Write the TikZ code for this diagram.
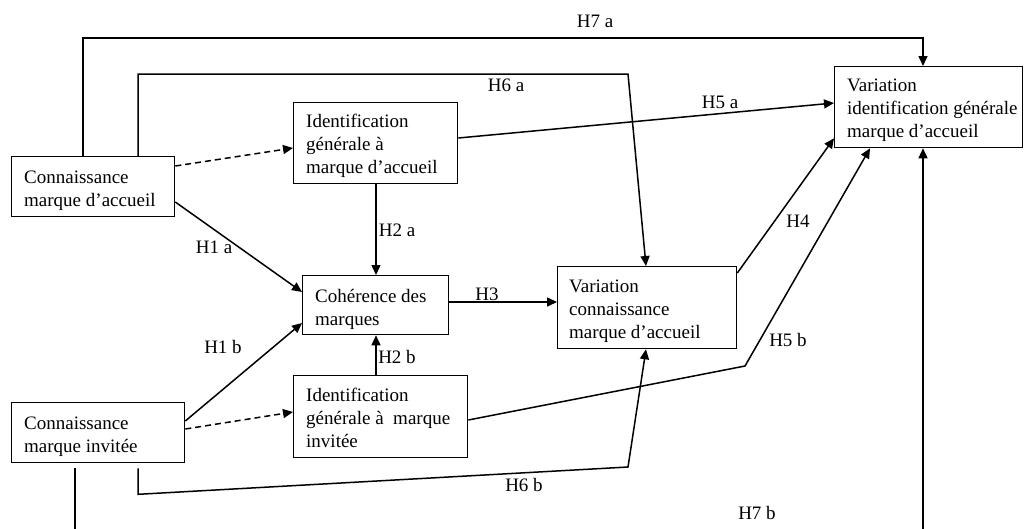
\documentclass[tikz,border=0pt]{standalone}
\usepackage{fontspec}
\setmainfont{Liberation Serif}
\usetikzlibrary{calc,arrows.meta}
\newcommand\fl{\rule{0pt}{26pt}}
\begin{document}
\begin{tikzpicture}[x=1pt,y=-1pt,
  font=\fontsize{19}{23}\selectfont,
  bx/.style={draw,line width=1.3pt,inner sep=0pt,anchor=north west},
  txt/.style={anchor=north west,align=left,inner sep=0pt},
  lab/.style={inner sep=0pt},
  ln/.style={line width=1.5pt},
  arr/.style={ln,-{Triangle[length=10pt,width=9pt]}},
  darr/.style={arr,dashed,dash pattern=on 6pt off 4pt}]
\useasboundingbox (0,0) rectangle (1032,528);
\clip (0,0) rectangle (1032,528);
% boxes
\node[bx,minimum width=163,minimum height=60] (A) at (11,156) {};
\node[bx,minimum width=164,minimum height=81] (B) at (293,102) {};
\node[bx,minimum width=146,minimum height=59] (C) at (302,275) {};
\node[bx,minimum width=174,minimum height=82] (D) at (293,375) {};
\node[bx,minimum width=173,minimum height=60] (E) at (11,402) {};
\node[bx,minimum width=179,minimum height=82] (F) at (557,266) {};
\node[bx,minimum width=188,minimum height=81] (G) at (834,66) {};
% texts
\node[txt] (tA) at ($(A.north west)+(13,1)$) {\fl Connaissance\\marque d’accueil};
\node[txt] (tB) at ($(B.north west)+(13,-1)$) {\fl Identification\\générale à\\marque d’accueil};
\node[txt] (tC) at ($(C.north west)+(13,1)$) {\fl Cohérence des\\marques};
\node[txt] (tD) at ($(D.north west)+(13,0)$) {\fl Identification\\générale à~ marque\\invitée};
\node[txt] (tE) at ($(E.north west)+(13,1)$) {\fl Connaissance\\marque invitée};
\node[txt] (tF) at ($(F.north west)+(12,0)$) {\fl Variation\\connaissance\\marque d’accueil};
\node[txt] (tG) at ($(G.north west)+(13,-1)$) {\fl Variation\\identification générale\\marque d’accueil};
% connectors
\draw[arr] ($(A.north west)+(72,0)$) -- ++(0,-118) -| ($(G.north west)+(89,0)$);
\draw[arr] ($(A.north west)+(127,0)$) -- ++(0,-82) -- (628,74) -- ($(F.north west)+(89,0)$);
\draw[arr] ($(B.north east)+(0,36)$) -- ($(G.north west)+(0,37)$);
\draw[darr] ($(A.north east)+(0,10)$) -- ($(B.north west)+(0,46)$);
\draw[arr] ($(A.north east)+(0,46)$) -- ($(C.north west)+(0,17)$);
\draw[arr] ($(B.south west)+(83,0)$) -- ($(C.north west)+(74,0)$);
\draw[arr] ($(E.north east)+(0,19)$) -- ($(C.north west)+(0,48)$);
\draw[arr] ($(D.north west)+(83,0)$) -- ($(C.south west)+(74,0)$);
\draw[darr] ($(E.north east)+(0,27)$) -- ($(D.north west)+(0,37)$);
\draw[arr] ($(C.north east)+(0,27)$) -- ($(F.north west)+(0,36)$);
\draw[arr] ($(F.north east)+(0,7)$) -- ($(G.south west)+(0,-10)$);
\draw[arr] ($(D.north east)+(0,45)$) -- (745,366) -- ($(G.south west)+(36,0)$);
\draw[arr] ($(E.south west)+(127,5)$) -- ++(0,26) -- (628,467) -- ($(F.south west)+(89,0)$);
\draw[arr] ($(E.south west)+(64,5)$) -- ++(0,78) -| ($(G.south west)+(89,0)$);
% labels
\node[lab] (l7a) at (595,21) {H7 a};
\node[lab] (l6a) at (506,85) {H6 a};
\node[lab] (l5a) at (720,102) {H5 a};
\node[lab] (l1a) at (214,247) {H1 a};
\node[lab] (l2a) at (397,230) {H2 a};
\node[lab] (l1b) at (223,347) {H1 b};
\node[lab] (l2b) at (397,357) {H2 b};
\node[lab] (l3) at (487,294) {H3};
\node[lab] (l4) at (798,221) {H4};
\node[lab] (l5b) at (788,340) {H5 b};
\node[lab] (l6b) at (524,485) {H6 b};
\node[lab] (l7b) at (757,513) {H7 b};
\end{tikzpicture}
\end{document}
